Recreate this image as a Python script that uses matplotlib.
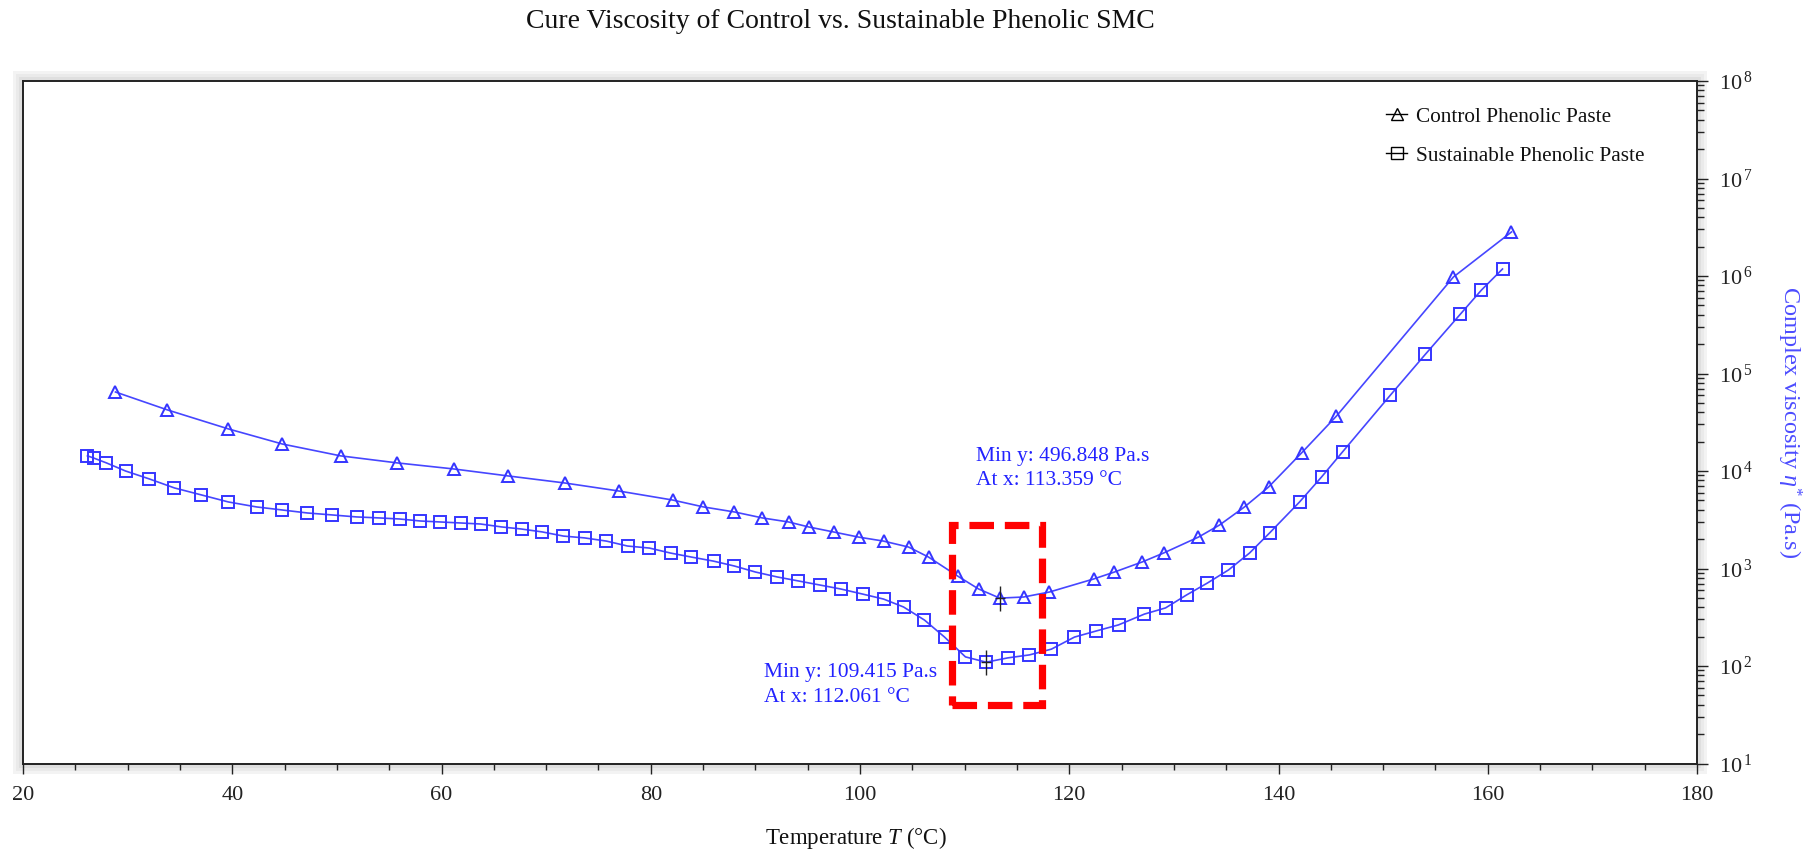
import matplotlib
matplotlib.use("Agg")
import numpy as np
import matplotlib.pyplot as plt
from matplotlib.lines import Line2D
from matplotlib.patches import Rectangle
from matplotlib.ticker import MultipleLocator, LogLocator, FuncFormatter, NullFormatter

plt.rcParams['font.family'] = ['Liberation Serif', 'DejaVu Serif']
plt.rcParams['mathtext.fontset'] = 'custom'
plt.rcParams['mathtext.rm'] = 'Liberation Serif'
plt.rcParams['mathtext.it'] = 'Liberation Serif:italic'
plt.rcParams['mathtext.bf'] = 'Liberation Serif:bold'

# ---------------- data ----------------
title = "Cure Viscosity of Control vs. Sustainable Phenolic SMC"
x_label = r"Temperature $T$ (°C)"
y_label = r"Complex viscosity $\eta^{*}$ (Pa.s)"
series_names = ["Control Phenolic Paste", "Sustainable Phenolic Paste"]

control_T = [28.84, 33.81, 39.64, 44.80, 50.35, 55.79, 61.15, 66.40, 71.76, 76.92,
             82.08, 85.04, 88.00, 90.68, 93.17, 95.08, 97.47, 99.86, 102.25, 104.64,
             106.55, 109.32, 111.33, 113.359, 115.63, 118.11, 122.32, 124.32, 127.00, 129.01,
             132.35, 134.36, 136.75, 139.05, 142.20, 145.54, 156.72, 162.27]
control_eta = [64600, 42300, 27000, 18900, 14300, 12100, 10500, 8890, 7540, 6240,
               5040, 4280, 3800, 3300, 3000, 2670, 2370, 2100, 1910, 1660,
               1310, 838, 617, 496.848, 510, 574, 780, 920, 1170, 1440,
               2100, 2790, 4280, 6850, 15300, 36600, 977000, 2830000]

sust_T = [26.16, 26.74, 27.98, 29.80, 32.09, 34.48, 37.06, 39.64, 42.32, 44.80,
          47.19, 49.58, 51.88, 54.07, 55.99, 57.99, 59.90, 61.82, 63.73, 65.73,
          67.65, 69.65, 71.66, 73.67, 75.77, 77.78, 79.88, 81.89, 83.89, 86.00,
          88.00, 90.01, 92.11, 94.12, 96.13, 98.14, 100.24, 102.25, 104.16, 106.16,
          108.08, 110.08, 112.061, 114.10, 116.20, 118.30, 120.50, 122.60, 124.71, 127.19,
          129.20, 131.21, 133.21, 135.22, 137.23, 139.14, 142.01, 144.11, 146.12, 150.70,
          154.05, 157.39, 159.40, 161.41]
sust_eta = [14300, 13600, 12100, 10000, 8280, 6700, 5680, 4810, 4280, 3980,
            3710, 3540, 3380, 3300, 3220, 3070, 3000, 2930, 2860, 2670,
            2540, 2370, 2150, 2060, 1910, 1700, 1620, 1440, 1310, 1190,
            1060, 920, 818, 745, 678, 617, 547, 486, 403, 296,
            198, 124, 109.415, 121, 130, 149, 198, 229, 264, 341,
            394, 535, 710, 966, 1440, 2310, 4810, 8670, 15700, 60100,
            158000, 407000, 718000, 1180000]

min_control = (113.359, 496.848)
min_sust = (112.061, 109.415)
ann_control = "Min y: 496.848 Pa.s\nAt x: 113.359 °C"
ann_sust = "Min y: 109.415 Pa.s\nAt x: 112.061 °C"

# ---------------- figure ----------------
W, H = 1812, 851
fig = plt.figure(figsize=(W / 100, H / 100), dpi=100)
fig.patch.set_facecolor('white')

ax_l, ax_r, ax_t, ax_b = 23, 1697, 81, 763.5
ax = fig.add_axes([ax_l / W, 1 - ax_b / H, (ax_r - ax_l) / W, (ax_b - ax_t) / H])
ax.set_facecolor('white')

# soft grey shadow around plot frame
for off, col in [(10, '#f3f3f3'), (7, '#eaeaea'), (4, '#dfdfdf')]:
    fig.patches.append(Rectangle(((ax_l - off) / W, 1 - (ax_b + off) / H),
                                 (ax_r - ax_l + 2 * off) / W, (ax_b - ax_t + 2 * off) / H,
                                 transform=fig.transFigure, facecolor=col,
                                 edgecolor='none', zorder=-5))

line_col = '#4646ff'
mk_col = '#3535ff'
ax.plot(control_T, control_eta, '-', color=line_col, lw=1.2, marker='^', ms=9.2,
        mfc='none', mec=mk_col, mew=1.4, zorder=3)
ax.plot(sust_T, sust_eta, '-', color=line_col, lw=1.2, marker='s', ms=8.6,
        mfc='none', mec=mk_col, mew=1.4, zorder=3)

# crosshair markers at minima
for (mx, my) in [min_control, min_sust]:
    ax.plot([mx], [my], marker='|', ms=18, mew=1.0, color='#222222', zorder=4)
    ax.plot([mx], [my], marker='_', ms=7, mew=1.0, color='#222222', zorder=4)

ax.set_xscale('linear')
ax.set_yscale('log')
ax.set_xlim(20, 180)
ax.set_ylim(10, 1e8)

# red dashed highlight box
box_x0, box_x1 = 108.75, 117.35
box_y0, box_y1 = 39.8, 2790
ax.add_patch(Rectangle((box_x0, box_y0), box_x1 - box_x0, box_y1 - box_y0, fill=False,
                       edgecolor='#ff0000', lw=5.2, linestyle=(0, (3.4, 1.5)), zorder=6))

# annotations
ax.text(111.13, 10620, ann_control, color='#2222ff', fontsize=15.5, ha='left', va='center',
        linespacing=1.4, zorder=7)
ax.text(90.87, 63.8, ann_sust, color='#2222ff', fontsize=15.5, ha='left', va='center',
        linespacing=1.4, zorder=7)

# axes styling
for s in ax.spines.values():
    s.set_linewidth(1.4)
    s.set_color('#222222')

ax.xaxis.set_major_locator(MultipleLocator(20))
ax.xaxis.set_minor_locator(MultipleLocator(5))
ax.tick_params(axis='x', which='major', direction='out', length=7, width=1.0,
               labelsize=16, pad=9, colors='#222222')
ax.tick_params(axis='x', which='minor', direction='out', length=4, width=1.0, colors='#222222')

ax.yaxis.tick_right()
ax.yaxis.set_major_locator(LogLocator(base=10, numticks=20))
ax.yaxis.set_minor_locator(LogLocator(base=10, subs=np.arange(2, 10), numticks=20))
ax.yaxis.set_minor_formatter(NullFormatter())
ax.yaxis.set_major_formatter(FuncFormatter(
    lambda v, p: r'$10^{\,%d}$' % int(round(np.log10(v)))))
ax.tick_params(axis='y', which='major', direction='out', length=8, width=1.0,
               labelsize=16, pad=8, colors='#222222')
ax.tick_params(axis='y', which='minor', direction='out', length=5, width=1.0, colors='#222222')
ax.xaxis.get_offset_text().set_visible(False)
ax.yaxis.get_offset_text().set_visible(False)

# titles / labels
fig.text(840 / W, 1 - 21 / H, title, ha='center', va='center', fontsize=20, color='#111111')
fig.text(856 / W, 1 - 838 / H, x_label, ha='center', va='center', fontsize=16.5, color='#111111')
fig.text(1789 / W, 1 - 422 / H, y_label, ha='center', va='center', fontsize=17.5,
         color='#4c4cff', rotation=270)

# legend (black proxies)
handles = [Line2D([], [], color='k', lw=1.0, marker='^', ms=8, mfc='none', mew=1.0),
           Line2D([], [], color='k', lw=1.0, marker='s', ms=8, mfc='none', mew=1.0)]
leg = ax.legend(handles, series_names, loc='upper left',
                bbox_to_anchor=(1386 / W, 1 - 107 / H), bbox_transform=fig.transFigure,
                frameon=False, fontsize=15.3, handlelength=1.0, handletextpad=0.4,
                labelspacing=0.9, borderpad=0, borderaxespad=0)
for t in leg.get_texts():
    t.set_color('#111111')

fig.savefig('out.png', dpi=100)
